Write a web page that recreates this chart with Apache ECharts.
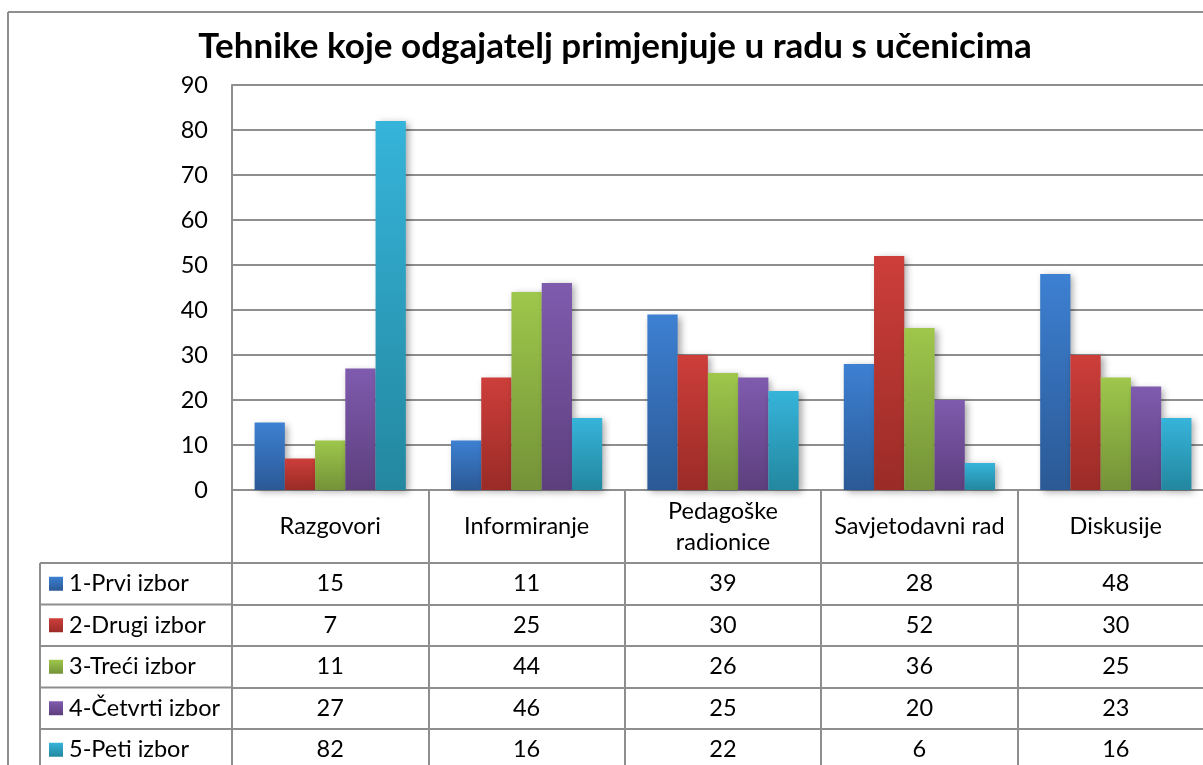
<!DOCTYPE html>
<html>
<head>
<meta charset="utf-8">
<script src="https://cdn.jsdelivr.net/npm/echarts@6/dist/echarts.min.js"></script>
<style>
  html, body { margin: 0; padding: 0; background: #fff; }
  #chart { width: 1203px; height: 765px; }
</style>
</head>
<body>
<div id="chart"></div>
<script>
// Categories (techniques) and the five choice rankings
const categories = ['Razgovori', 'Informiranje', 'Pedagoške\nradionice', 'Savjetodavni rad', 'Diskusije'];
const seriesNames = ['1-Prvi izbor', '2-Drugi izbor', '3-Treći izbor', '4-Četvrti izbor', '5-Peti izbor'];
const prviIzbor = [15, 11, 39, 28, 48];
const drugiIzbor = [7, 25, 30, 52, 30];
const treciIzbor = [11, 44, 26, 36, 25];
const cetvrtiIzbor = [27, 46, 25, 20, 23];
const petiIzbor = [82, 16, 22, 6, 16];
const yTicks = { min: 0, max: 90, interval: 10 };

const seriesValues = [prviIzbor, drugiIzbor, treciIzbor, cetvrtiIzbor, petiIzbor];
const gradients = [
  ['#3d80d2', '#2b5995'],
  ['#cd3e3a', '#9a2b27'],
  ['#9ec74b', '#749238'],
  ['#7f5bae', '#5d3f7e'],
  ['#36b4da', '#23879f']
];

const FONT = 'Lato, "Open Sans", sans-serif';
const FS = 23.5;
const LINE = '#8e8e8e';

// Layout of the plot and the data table under it (the plot runs past the right edge)
const W = 1203, H = 765;
const plotLeft = 232, plotTop = 85, plotBottomY = 490, plotWidth = 982;
const headerH = 73, rowH = 41.5;
const legendColLeft = 40;
const tableTop = plotBottomY + headerH;

const chart = echarts.init(document.getElementById('chart'), null, { renderer: 'canvas' });

const valueAxes = seriesValues.map((vals, k) => ({
  type: 'category',
  data: categories,
  position: 'bottom',
  offset: headerH + rowH * k,
  axisLine: { show: true, lineStyle: { color: LINE, width: 2 } },
  axisTick: { show: false },
  splitLine: { show: false },
  axisLabel: {
    interval: 0,
    margin: rowH / 2,
    verticalAlign: 'middle',
    fontSize: FS,
    fontFamily: FONT,
    color: '#000',
    formatter: (v, idx) => String(vals[idx])
  }
}));

const graphics = [];
// outer chart frame
graphics.push({ type: 'line', shape: { x1: 8, y1: 12, x2: W + 5, y2: 12 }, style: { stroke: LINE, lineWidth: 2 } });
graphics.push({ type: 'line', shape: { x1: 8, y1: 12, x2: 8, y2: H + 5 }, style: { stroke: LINE, lineWidth: 2 } });
// legend column of the table
graphics.push({ type: 'line', shape: { x1: legendColLeft, y1: tableTop, x2: legendColLeft, y2: H + 5 }, style: { stroke: LINE, lineWidth: 2 } });
for (let k = 0; k < seriesNames.length; k++) {
  const y = tableTop + rowH * k;
  graphics.push({ type: 'line', shape: { x1: legendColLeft, y1: y, x2: plotLeft, y2: y }, style: { stroke: LINE, lineWidth: 2 } });
}

const option = {
  animation: false,
  backgroundColor: '#fff',
  title: {
    text: 'Tehnike koje odgajatelj primjenjuje u radu s učenicima',
    left: 610,
    top: 42,
    textAlign: 'center',
    textVerticalAlign: 'middle',
    textStyle: { fontFamily: FONT, fontWeight: 'bold', fontSize: 35, color: '#000' }
  },
  legend: {
    data: seriesNames,
    orient: 'vertical',
    left: 49,
    top: tableTop + rowH / 2 - 12,
    itemWidth: 14,
    itemHeight: 14,
    itemGap: rowH - 24,
    padding: 0,
    selectedMode: false,
    icon: 'rect',
    textStyle: { fontFamily: FONT, fontSize: FS, color: '#000', lineHeight: 24, height: 24, padding: [0, 0, 0, 1] }
  },
  grid: {
    left: plotLeft,
    top: plotTop,
    width: plotWidth,
    bottom: H - plotBottomY,
    containLabel: false,
    outerBoundsMode: 'none'
  },
  xAxis: [{
    type: 'category',
    data: categories,
    position: 'bottom',
    axisLine: { show: true, lineStyle: { color: LINE, width: 2 } },
    axisTick: { show: true, length: H - plotBottomY + 5, alignWithLabel: false, lineStyle: { color: LINE, width: 2 } },
    splitLine: { show: false },
    axisLabel: {
      interval: 0,
      margin: headerH / 2,
      verticalAlign: 'middle',
      lineHeight: 31,
      fontSize: FS,
      fontFamily: FONT,
      color: '#000'
    }
  }].concat(valueAxes),
  yAxis: {
    type: 'value',
    min: yTicks.min,
    max: yTicks.max,
    interval: yTicks.interval,
    axisLine: { show: true, lineStyle: { color: LINE, width: 2 } },
    axisTick: { show: false },
    splitLine: { show: true, lineStyle: { color: LINE, width: 2 } },
    axisLabel: { margin: 24, fontSize: FS, fontFamily: FONT, color: '#000' }
  },
  series: seriesNames.map((name, i) => ({
    name: name,
    type: 'bar',
    xAxisIndex: 0,
    data: seriesValues[i],
    barGap: '0%',
    barCategoryGap: '23%',
    itemStyle: {
      color: new echarts.graphic.LinearGradient(0, 0, 0, 1, [
        { offset: 0, color: gradients[i][0] },
        { offset: 1, color: gradients[i][1] }
      ]),
      shadowBlur: 7,
      shadowColor: 'rgba(0,0,0,0.35)',
      shadowOffsetX: 3,
      shadowOffsetY: 2
    }
  })),
  graphic: graphics
};

chart.setOption(option);
</script>
</body>
</html>
